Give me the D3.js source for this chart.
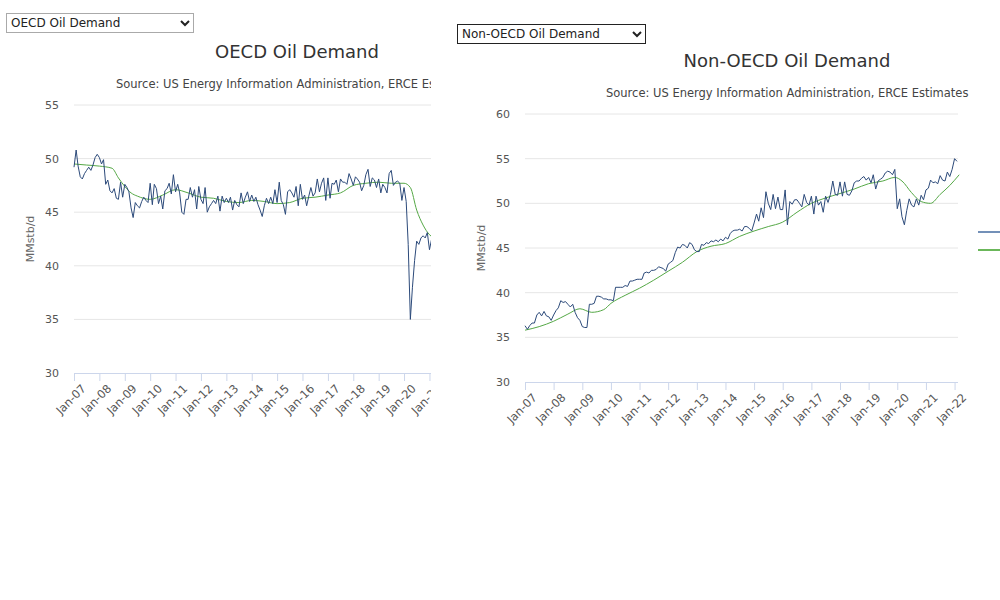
<!DOCTYPE html>
<html><head><meta charset="utf-8">
<script src="https://cdn.jsdelivr.net/npm/d3@7"></script>
<style>
body{margin:0;background:#fff;font-family:"DejaVu Sans",sans-serif;}
select{position:absolute;font-family:"DejaVu Sans",sans-serif;font-size:12px;height:20px;background:#fff;color:#222;}
#c1{position:absolute;left:0;top:0;width:431px;height:600px;overflow:hidden;}
#c2{position:absolute;left:0;top:0;width:1000px;height:600px;}
</style></head><body>
<div id="c2"></div>
<div id="c1"></div>
<select style="left:6px;top:13px;width:188px;border:1px solid #aaa"><option>OECD Oil Demand</option></select>
<select style="left:457px;top:24px;width:189px;border:1px solid #222"><option>Non-OECD Oil Demand</option></select>
<script>
const start = new Date(2007, 0, 1);
const yearTicks = d3.range(2007, 2023).map(y => new Date(y, 0, 1));

// monthly, Jan-07 .. Feb-22
const oecd = [
  49.2, 50.8, 49.3, 48.3, 48.1, 48.6, 48.9, 49.2, 48.9, 49.4, 50.1, 50.4,
  50.1, 49.5, 49.9, 47.6, 48.0, 47.0, 46.8, 47.2, 46.3, 46.2, 47.8, 46.4,
  47.6, 47.3, 46.9, 45.4, 44.5, 45.9, 45.6, 45.4, 46.0, 46.4, 46.1, 45.9,
  47.7, 45.7, 47.6, 47.2, 45.8, 46.5, 45.3, 47.0, 47.2, 47.7, 46.7, 48.5,
  46.9, 47.6, 46.8, 45.0, 44.8, 46.2, 46.2, 47.3, 46.4, 47.1, 45.3, 47.4,
  46.2, 45.8, 47.3, 45.0, 45.5, 45.8, 46.1, 45.8, 46.5, 45.1, 46.5, 45.9,
  46.3, 45.9, 46.4, 45.2, 46.1, 45.7, 45.5, 46.8, 45.8, 46.4, 46.9, 46.0,
  46.6, 46.0, 46.4, 45.7, 45.2, 44.6, 45.6, 46.3, 45.8, 46.4, 45.8, 47.1,
  45.9, 47.8, 46.1, 45.7, 44.8, 46.9, 47.1, 46.8, 46.4, 47.4, 45.6, 47.6,
  46.2, 46.6, 45.6, 46.5, 47.3, 46.5, 46.8, 48.1, 46.9, 47.7, 48.2, 46.1,
  48.2, 46.3, 47.7, 47.6, 48.0, 46.9, 48.1, 47.8, 47.8, 47.6, 48.6, 48.1,
  47.5, 48.3, 48.1, 47.8, 47.0, 47.5, 48.5, 49.0, 47.4, 48.2, 48.0, 47.3,
  48.1, 46.8, 47.6, 47.3, 46.8, 48.6, 48.9, 47.5, 47.8, 47.9, 47.7, 46.1,
  47.3, 46.0, 42.0, 35.0, 38.0, 40.5, 42.3, 42.0, 42.6, 42.8, 42.6, 43.1,
  41.5, 42.5, 43.5, 43.8, 44.5, 45.0, 45.5, 45.2, 45.8, 46.0, 46.2, 46.5,
  45.8, 46.0
];
const oecdAvgMonths = [0, 6, 12, 18, 21, 24, 27, 30, 36, 42, 48, 54, 60, 66, 72, 78, 84, 90, 96, 102, 108, 114, 120, 126, 132, 138, 144, 150, 156, 159, 162, 165, 168, 171, 174, 180, 182];
const oecdAvg = [49.5, 49.4, 49.3, 49.1, 48.2, 47.4, 46.8, 46.5, 46.2, 46.6, 47.1, 46.8, 46.4, 46.3, 46.0, 45.9, 46.1, 46.0, 45.8, 45.9, 46.3, 46.4, 46.6, 46.8, 47.5, 47.7, 47.8, 47.7, 47.7, 47.3, 45.2, 43.8, 42.9, 42.5, 41.8, 43.5, 44.2];

const nonOecd = [
  36.3, 35.9, 36.3, 36.6, 36.6, 37.5, 37.8, 37.4, 37.9, 37.4, 37.3, 36.9,
  37.5, 38.0, 38.3, 39.1, 38.9, 39.0, 38.7, 38.4, 38.7, 37.8, 37.2, 36.9,
  36.2, 36.1, 36.1, 38.7, 38.7, 38.8, 39.6, 39.6, 39.5, 39.3, 39.3, 39.2,
  39.2, 39.1, 40.6, 40.6, 40.6, 40.6, 40.8, 40.7, 41.3, 41.3, 41.4, 41.5,
  41.5, 41.5, 42.2, 42.3, 42.2, 42.5, 42.5, 42.6, 42.9, 42.8, 42.7, 42.4,
  43.2, 43.4, 43.6, 44.5, 45.1, 45.0, 45.4, 45.3, 45.0, 45.6, 45.4, 44.8,
  44.6, 44.6, 45.4, 45.3, 45.6, 45.5, 45.8, 45.7, 45.9, 45.7, 46.0, 45.8,
  46.2, 46.0, 46.6, 46.9, 47.0, 47.0, 47.1, 46.9, 47.4, 47.4, 47.2, 46.9,
  47.8, 48.8, 48.0, 49.5, 48.4, 51.3, 50.0, 49.3, 51.0, 49.4, 50.7, 49.3,
  49.3, 51.5, 47.6, 50.2, 49.9, 50.4, 50.4, 50.0, 49.6, 51.0, 50.1, 49.8,
  50.8, 48.8, 50.8, 49.8, 50.2, 49.0, 50.8, 50.1, 51.0, 52.5, 51.0, 50.9,
  52.4, 50.8, 52.4, 51.0, 50.9, 51.4, 52.3, 52.5, 52.5, 52.8, 53.0, 52.6,
  52.9, 52.3, 53.2, 51.6, 52.5, 52.7, 52.9, 53.4, 53.6, 53.5, 53.2, 53.8,
  49.4, 50.5, 48.5, 47.6, 49.2, 50.5, 49.8, 49.6, 50.5, 49.8, 50.9, 50.4,
  51.5, 51.7, 52.6, 52.3, 52.4, 52.2, 53.1, 52.6, 52.5, 53.5, 53.0, 53.8,
  55.0, 54.7
];
const nonOecdAvgMonths = [0, 6, 12, 18, 23, 28, 33, 36, 42, 48, 54, 60, 66, 72, 78, 84, 90, 96, 102, 108, 114, 120, 126, 132, 138, 144, 150, 155, 158, 162, 166, 170, 174, 178, 182];
const nonOecdAvg = [35.8, 36.2, 36.8, 37.6, 38.2, 37.8, 38.1, 38.8, 39.7, 40.5, 41.4, 42.4, 43.4, 44.6, 45.2, 45.5, 46.3, 46.9, 47.4, 47.9, 49.0, 50.0, 50.6, 51.1, 51.6, 52.2, 52.5, 52.9, 52.5, 51.2, 50.2, 50.0, 51.0, 52.0, 53.2];

const monthDate = m => d3.timeMonth.offset(start, m);

function drawChart(sel, o) {
  const svg = d3.select(sel).append('svg')
    .attr('width', o.width).attr('height', 600)
    .style('position', 'absolute').style('left', 0).style('top', 0);

  const x = d3.scaleTime().domain([start, monthDate(181)]).range([o.x0, o.x1]);
  const y = d3.scaleLinear().domain([30, o.yMax]).range([o.yBottom, o.yTop]);

  // grid
  svg.append('g').selectAll('line').data(y.ticks(o.yTicks).filter(v => v > 30))
    .join('line')
    .attr('x1', o.x0).attr('x2', o.gridEnd)
    .attr('y1', d => y(d)).attr('y2', d => y(d))
    .attr('stroke', '#e6e6e6');

  const yAxis = svg.append('g').attr('transform', `translate(${o.x0 - 12},0)`)
    .call(d3.axisLeft(y).ticks(o.yTicks).tickSize(0));
  yAxis.select('.domain').remove();
  yAxis.selectAll('text').attr('fill', '#555').style('font-size', '11px').style('font-family', 'DejaVu Sans');

  const xAxis = svg.append('g').attr('transform', `translate(0,${o.yBottom})`)
    .call(d3.axisBottom(x).tickValues(yearTicks).tickFormat(d3.timeFormat('Jan-%y')).tickSize(8).tickSizeOuter(0));
  xAxis.select('.domain').attr('stroke', '#ccd6eb').attr('d', `M${o.x0},0.5H${o.gridEnd}`);
  xAxis.selectAll('line').attr('stroke', '#ccd6eb');
  xAxis.selectAll('text').attr('fill', '#555').style('font-size', '11.5px').style('font-family', 'DejaVu Sans')
    .attr('text-anchor', 'end').attr('dy', '0.3em')
    .attr('transform', 'translate(2,6) rotate(-45)');

  svg.append('text').attr('transform', `translate(${o.x0 - 40},${(o.yTop + o.yBottom) / 2}) rotate(-90)`)
    .attr('text-anchor', 'middle').attr('fill', '#666').style('font-size', '11px').text('MMstb/d');

  svg.append('text').attr('x', o.titleX).attr('y', o.titleY).attr('text-anchor', 'middle')
    .attr('fill', '#333').style('font-size', '18px').text(o.title);
  svg.append('text').attr('x', o.subX).attr('y', o.titleY + 30).attr('text-anchor', 'start')
    .attr('fill', '#444').style('font-size', '11.5px')
    .text('Source: US Energy Information Administration, ERCE Estimates');

  const line = d3.line().x(d => x(d[0])).y(d => y(d[1]));
  const smooth = d3.line().curve(d3.curveMonotoneX).x(d => x(d[0])).y(d => y(d[1]));

  svg.append('path').datum(o.avgMonths.map((m, i) => [monthDate(m), o.avg[i]]))
    .attr('d', smooth).attr('fill', 'none').attr('stroke', '#55a846').attr('stroke-width', 1);
  svg.append('path').datum(o.values.map((v, i) => [monthDate(i), v]))
    .attr('d', line).attr('fill', 'none').attr('stroke', '#2c4a7a').attr('stroke-width', 1);

  if (o.legend) {
    [['#7390b8', 232], ['#6bb75a', 250]].forEach(([c, ly]) =>
      svg.append('line').attr('x1', 978).attr('x2', 1000).attr('y1', ly).attr('y2', ly)
        .attr('stroke', c).attr('stroke-width', 2));
  }
}

drawChart('#c1', {
  width: 431, x0: 74, x1: 457, gridEnd: 460, yTop: 105, yBottom: 373, yMax: 55, yTicks: 5,
  title: 'OECD Oil Demand', titleX: 297, titleY: 58, subX: 116,
  values: oecd, avgMonths: oecdAvgMonths, avg: oecdAvg, legend: false
});
drawChart('#c2', {
  width: 1000, x0: 525, x1: 957, gridEnd: 958, yTop: 114, yBottom: 382, yMax: 60, yTicks: 6,
  title: 'Non-OECD Oil Demand', titleX: 787, titleY: 67, subX: 606,
  values: nonOecd, avgMonths: nonOecdAvgMonths, avg: nonOecdAvg, legend: true
});
</script>
</body></html>
